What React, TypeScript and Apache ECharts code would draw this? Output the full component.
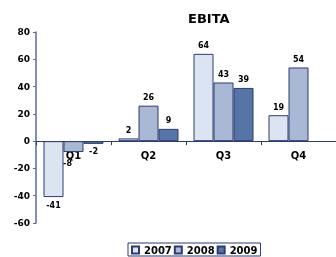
import React, { useEffect, useRef } from "react";
import * as echarts from "echarts";

const categories = ["Q1", "Q2", "Q3", "Q4"];
const series2007 = [-41, 2, 64, 19];
const series2008 = [-8, 26, 43, 54];
const series2009: (number | null)[] = [-2, 9, 39, null];
const seriesNames = ["2007", "2008", "2009"];
const yTicks = { min: -60, max: 80, interval: 20 };

const colors = ["#dde4f1", "#a9b8d5", "#5774a7"];
const border = "#2b3c70";
const font = "DejaVu Sans, Verdana, sans-serif";

export default function App() {
  const ref = useRef<HTMLDivElement>(null);
  useEffect(() => {
    const chart = echarts.init(ref.current!, null, { renderer: "svg" });
    const data = [series2007, series2008, series2009];
    const gridTop = 32;
    const gridHeight = 191;
    const zeroY = gridTop + (gridHeight * yTicks.max) / (yTicks.max - yTicks.min);
    const xOffset = -(gridTop + gridHeight - zeroY);
    chart.setOption({
      animation: false,
      title: {
        text: "EBITA",
        left: 188,
        top: 12,
        padding: 0,
        textStyle: { fontFamily: font, fontSize: 13, fontWeight: "bold", color: "#000" },
      },
      legend: {
        top: 243,
        left: 128,
        itemWidth: 7,
        itemHeight: 7,
        itemGap: 2,
        padding: [2, 3, 1, 3],
        borderColor: border,
        borderWidth: 1,
        textStyle: { fontFamily: font, fontSize: 10, fontWeight: "bold", color: "#000" },
        data: seriesNames.map((n) => ({ name: n, icon: "rect" })),
      },
      grid: { left: 36, top: gridTop, width: 301, height: gridHeight },
      xAxis: {
        type: "category",
        data: categories,
        offset: xOffset,
        axisLine: { onZero: false, lineStyle: { color: border, width: 1 } },
        axisTick: { show: true, length: 4, lineStyle: { color: border } },
        axisLabel: { margin: 9, fontFamily: font, fontSize: 10, fontWeight: "bold", color: "#000" },
      },
      yAxis: {
        type: "value",
        min: yTicks.min,
        max: yTicks.max,
        interval: yTicks.interval,
        splitLine: { show: false },
        axisLine: { show: true, lineStyle: { color: "#5a6a9c", width: 1.5 } },
        axisTick: { show: true, length: 3, lineStyle: { color: "#5a6a9c" } },
        axisLabel: { margin: 6, fontFamily: font, fontSize: 9, fontWeight: "bold", color: "#000" },
      },
      series: seriesNames.map((name, i) => ({
        name,
        type: "bar",
        z: 3,
        data: data[i].map((v, j) =>
          v !== null && v < 0
            ? {
                value: v,
                label: {
                  position: "bottom",
                  offset: i === 1 && j === 0 ? [-6, 3] : [0, 0],
                },
              }
            : v
        ),
        barWidth: 20,
        barGap: "0%",
        itemStyle: { color: colors[i], borderColor: border, borderWidth: 1 },
        label: {
          show: true,
          position: "top",
          distance: 4,
          fontFamily: font,
          fontSize: 8,
          fontWeight: "bold",
          color: "#000",
        },
      })),
    });
    return () => chart.dispose();
  }, []);
  return (
    <div
      ref={ref}
      style={{ width: 336, height: 257, position: "fixed", left: 0, top: 0 }}
    />
  );
}
